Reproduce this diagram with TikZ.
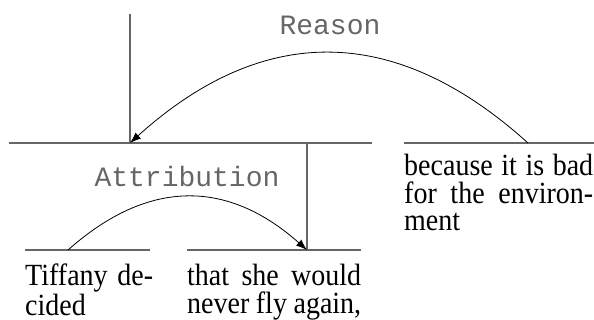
\documentclass[tikz,border=0pt]{standalone}
\usepackage{fontspec}
\setmainfont{Liberation Serif}
\setmonofont{Liberation Mono}
\usetikzlibrary{arrows.meta}
\tolerance=9999
\newcommand\blkfont{\fontsize{28}{25}\selectfont}
\newcommand\relfont{\fontsize{28}{28}\ttfamily}
\tikzset{
  span/.style={line width=1.2pt, black!60},
  rel/.style={line width=0.8pt, -{Latex[length=11pt,width=8pt]}},
  relname/.style={font=\relfont, text=black!60, anchor=base, inner sep=0pt},
  blk/.style={font=\blkfont, align=justify, anchor=base west, inner sep=0pt, yscale=1.1},
}
\begin{document}
\begin{tikzpicture}[x=1pt, y=1pt]
\useasboundingbox (0,0) rectangle (594,320);
% nucleus span and its satellite
\coordinate (top) at (130,306);
\coordinate (hub) at (130,177);
\coordinate (nl) at (9,177);
\coordinate (nr) at (372,177);
\coordinate (sl) at (404,177);
\coordinate (sr) at (594,177);
\coordinate (sat) at (528,177);
\draw[span] (top) -- (hub);
\draw[span] (nl) -- (nr);
\draw[span] (sl) -- (sr);
% inner attribution
\coordinate (sub) at (307,177);
\coordinate (att) at (307,70);
\coordinate (al) at (25,70);
\coordinate (ar) at (150,70);
\coordinate (bl) at (187,70);
\coordinate (br) at (361,70);
\coordinate (src) at (68,70);
\draw[span] (sub) -- (att);
\draw[span] (al) -- (ar);
\draw[span] (bl) -- (br);
% relations
\draw[rel] (sat) .. controls (395,297) and (263,297) .. (hub);
\draw[rel] (src) .. controls (148,141) and (227,141) .. (att);
\node[relname] (reason) at (330,285) {Reason};
\node[relname] (attrib) at (187,133) {Attribution};
% text segments
\node[blk, text width=128pt] (seg1) at (25,34) {Tiffany de-\linebreak cided};
\node[blk, text width=174pt] (seg2) at (187,34) {that she would\linebreak never fly again,};
\node[blk, text width=189pt] (seg3) at (404,144) {because it is bad\linebreak for the environ-\linebreak ment};
\end{tikzpicture}
\end{document}
